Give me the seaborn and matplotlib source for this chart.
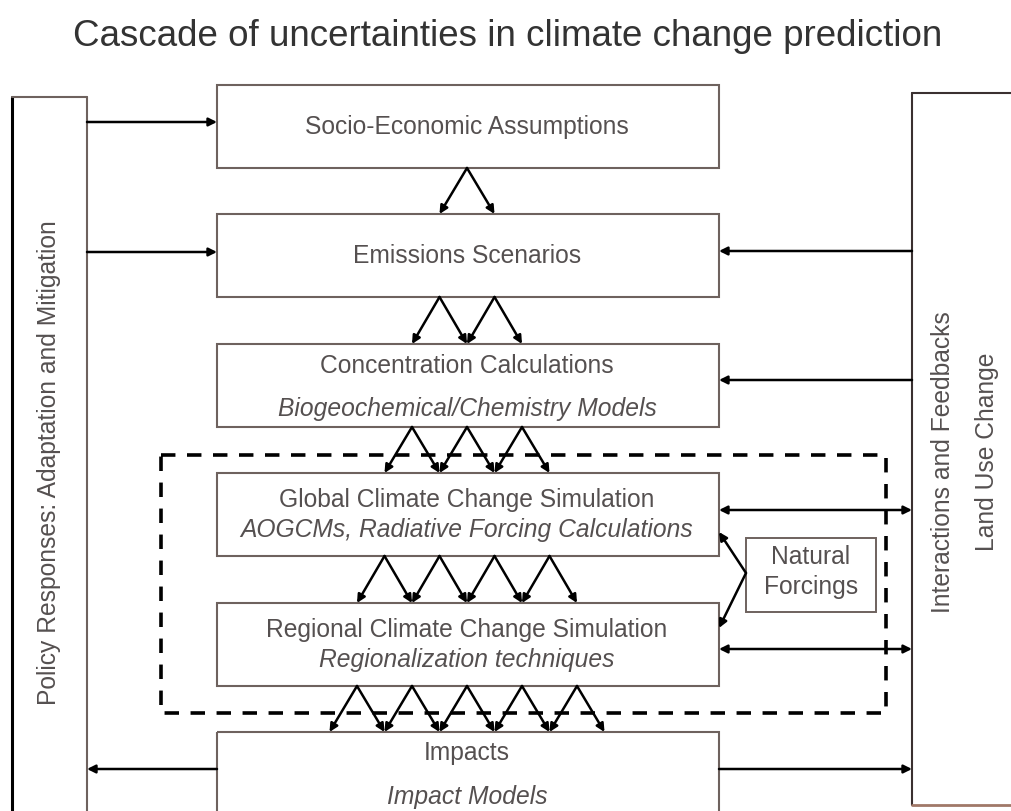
import matplotlib
matplotlib.use('Agg')
import matplotlib.pyplot as plt
from matplotlib.patches import Rectangle
import seaborn as sns

sns.set_theme(style='white')
plt.rcParams['font.family'] = ['Liberation Sans', 'DejaVu Sans']

# Diagram content
title = 'Cascade of uncertainties in climate change prediction'
box_titles = ['Socio-Economic Assumptions', 'Emissions Scenarios',
              'Concentration Calculations', 'Global Climate Change Simulation',
              'Regional Climate Change Simulation', 'Impacts']
box_subtitles = ['', '', 'Biogeochemical/Chemistry Models',
                 'AOGCMs, Radiative Forcing Calculations',
                 'Regionalization techniques', 'Impact Models']
# number of cascade branches between successive boxes
branches = [1, 2, 3, 4, 5]
left_label = 'Policy Responses: Adaptation and Mitigation'
right_labels = ['Interactions and Feedbacks', 'Land Use Change']
side_label = ['Natural', 'Forcings']

EDGE = '#6e625e'
TEXT = '#555050'
FS = 17.7

#################
# Layout (px)   #
#################
W, H = 1011, 811
bx0, bx1 = 217, 719
box_top = [85, 214, 344, 473, 603, 732]
box_h = 83
cx = 467
step = 55

fig = plt.figure(figsize=(W / 100, H / 100), dpi=100)
ax = fig.add_axes([0, 0, 1, 1])
ax.set_xlim(0, W)
ax.set_ylim(H, 0)
ax.axis('off')


def arrow(x0, y0, x1, y1, both=False, lw=1.8, ms=12):
    style = '<|-|>' if both else '-|>'
    ax.annotate('', xy=(x1, y1), xytext=(x0, y0),
                arrowprops=dict(arrowstyle=style, color='black', lw=lw,
                                mutation_scale=ms, shrinkA=0, shrinkB=0))


# Title
ax.text(508, 36, title, ha='center', va='center', fontsize=26.5, color='#333333')

# Side panels
ax.plot([12, 12], [97, H + 5], color='black', lw=2.2)
ax.plot([12, 87], [97, 97], color=EDGE, lw=1.5)
ax.plot([87, 87], [97, H + 5], color=EDGE, lw=1.5)
ax.text(49, 463, left_label, rotation=90, ha='center', va='center', fontsize=FS, color=TEXT)

ax.plot([912, W + 5], [93, 93], color='#3a3030', lw=1.5)
ax.plot([912, 912], [93, 805], color='#3a3030', lw=1.5)
ax.plot([912, W + 5], [805, 805], color='#a07868', lw=2)
ax.text(943, 462, right_labels[0], rotation=90, ha='center', va='center', fontsize=FS, color=TEXT)
ax.text(987, 452, right_labels[1], rotation=90, ha='center', va='center', fontsize=FS, color=TEXT)

# Main boxes
for i, (t, s) in enumerate(zip(box_titles, box_subtitles)):
    top = box_top[i]
    h = box_h if i < 5 else H + 10 - top
    ax.add_patch(Rectangle((bx0, top), bx1 - bx0, h, fill=False, ec=EDGE, lw=1.5))
    if s == '':
        ax.text(cx, top + 42, t, ha='center', va='center', fontsize=FS, color=TEXT)
    elif i == 2:
        ax.text(cx, top + 22, t, ha='center', va='center', fontsize=FS, color=TEXT)
        ax.text(cx, top + 65, s, ha='center', va='center', fontsize=FS, color=TEXT, style='italic')
    elif i == 5:
        ax.text(cx, top + 21, t, ha='center', va='center', fontsize=FS, color=TEXT)
        ax.text(cx, top + 65, s, ha='center', va='center', fontsize=FS, color=TEXT, style='italic')
    else:
        ax.text(cx, top + 27, t, ha='center', va='center', fontsize=FS, color=TEXT)
        ax.text(cx, top + 57, s, ha='center', va='center', fontsize=FS, color=TEXT, style='italic')

# Cascade arrows
for i, n in enumerate(branches):
    y0 = box_top[i] + box_h
    y1 = box_top[i + 1]
    for k in range(n):
        ax_x = cx + step * (k - (n - 1) / 2)
        arrow(ax_x, y0, ax_x - step / 2, y1)
        arrow(ax_x, y0, ax_x + step / 2, y1)

# Dashed box
ax.add_patch(Rectangle((161, 455), 886 - 161, 713 - 455, fill=False, ec='black',
                       lw=2.6, ls=(0, (4, 3.2))))

# Natural forcings
ax.add_patch(Rectangle((746, 538), 876 - 746, 612 - 538, fill=False, ec=EDGE, lw=1.4))
ax.text(811, 557, side_label[0], ha='center', va='center', fontsize=FS, color=TEXT)
ax.text(811, 587, side_label[1], ha='center', va='center', fontsize=FS, color=TEXT)
arrow(746, 573, 719, 532)
arrow(746, 573, 719, 628)

# Horizontal connections
arrow(87, 122, bx0, 122)
arrow(87, 252, bx0, 252)
arrow(bx0, 769, 87, 769)
arrow(912, 251, bx1, 251)
arrow(912, 380, bx1, 380)
arrow(bx1, 510, 912, 510, both=True)
arrow(bx1, 649, 912, 649, both=True)
arrow(bx1, 769, 912, 769)

fig.savefig('out.png', dpi=100)
